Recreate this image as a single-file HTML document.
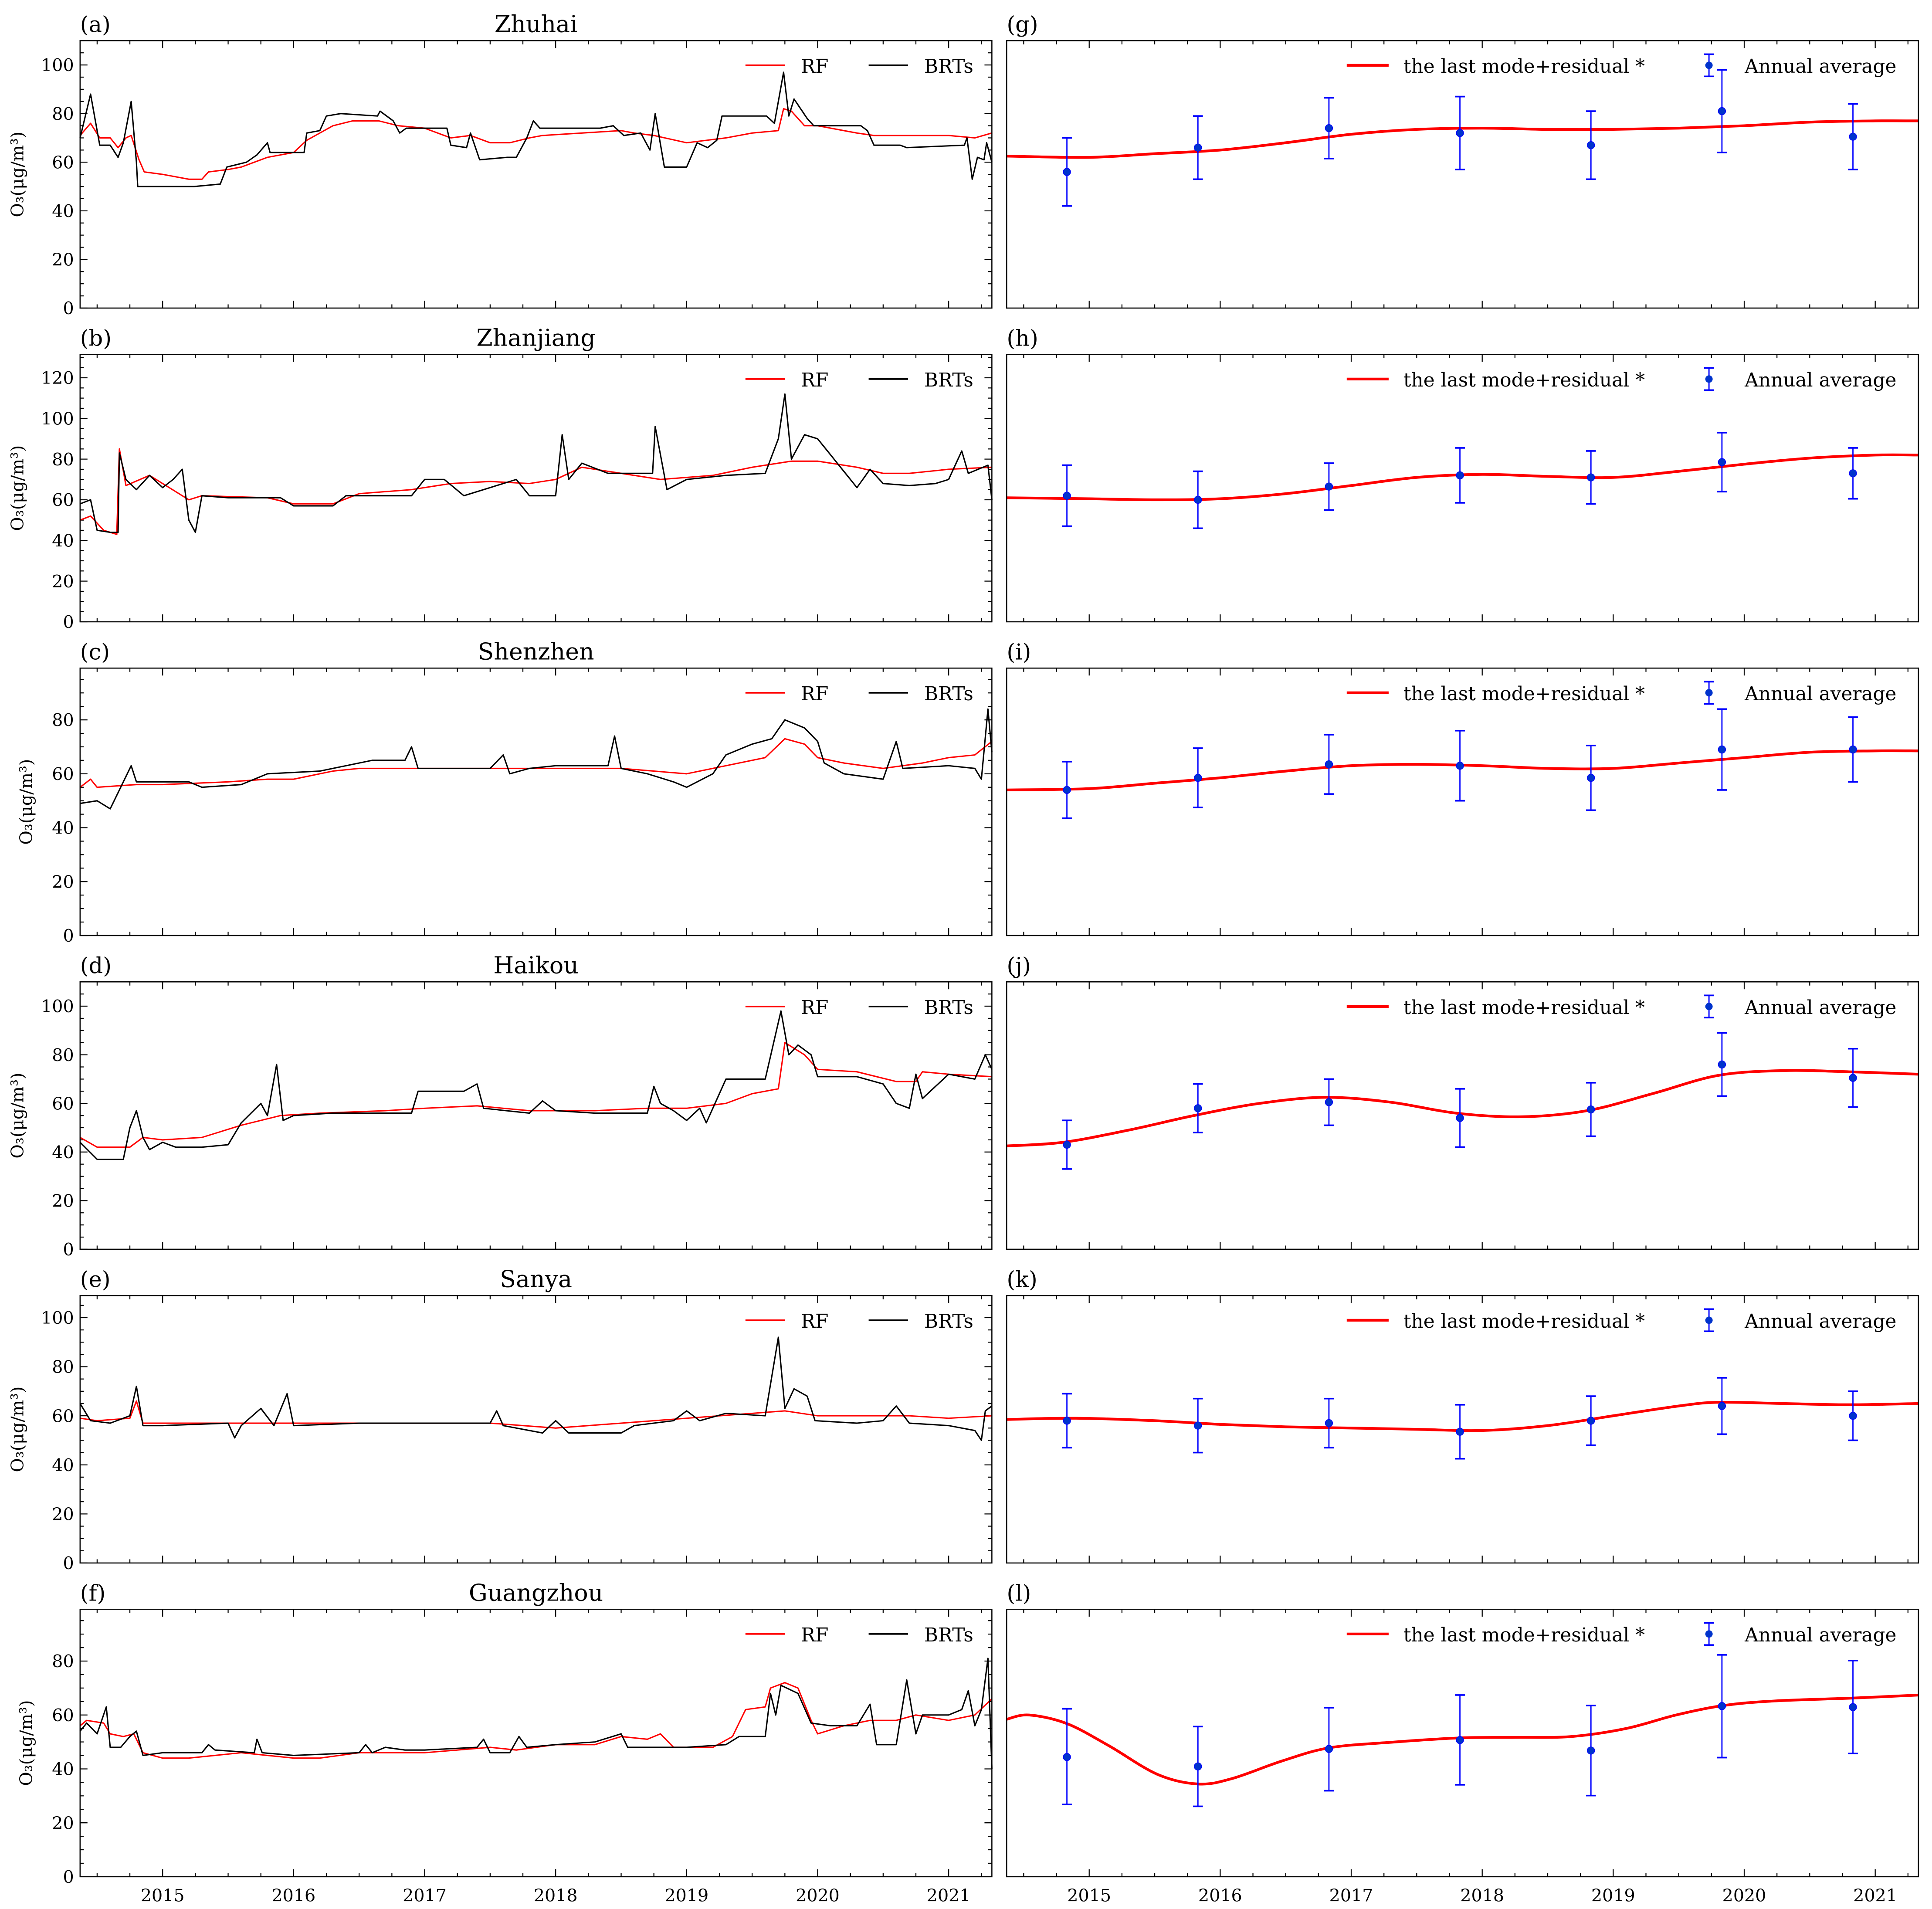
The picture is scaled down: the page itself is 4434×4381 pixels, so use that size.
<!DOCTYPE html>
<html><head><meta charset="utf-8"><title>O3 trends</title>
<style>
html,body{margin:0;padding:0;background:#fff;}
svg{display:block;}
text{font-family:"DejaVu Serif","Liberation Serif",serif;fill:#000;}
</style></head>
<body>
<svg id="fig" xmlns="http://www.w3.org/2000/svg" width="4434" height="4381" viewBox="0 0 1568 1549.2" preserveAspectRatio="none">
<rect x="0" y="0" width="1568" height="1549.2" fill="#fff"/>
</svg>
<script>
// ---------- data ----------
const cities = ["Zhuhai","Zhanjiang","Shenzhen","Haikou","Sanya","Guangzhou"];
const leftLetters = ["(a)","(b)","(c)","(d)","(e)","(f)"];
const rightLetters = ["(g)","(h)","(i)","(j)","(k)","(l)"];
const yMaxes = [110,131.5,99.2,110,109,99.2];
const yTicks = [[0,20,40,60,80,100],[0,20,40,60,80,100,120],[0,20,40,60,80],[0,20,40,60,80,100],[0,20,40,60,80,100],[0,20,40,60,80]];
const xYears = [2015,2016,2017,2018,2019,2020,2021];
const annualYears = [2014.83,2015.83,2016.83,2017.83,2018.83,2019.83,2020.83];

// Zhuhai
const zhBrtT=[2014.37,2014.45,2014.52,2014.6,2014.66,2014.7,2014.76,2014.8,2014.81,2015.24,2015.44,2015.49,2015.64,2015.72,2015.8,2015.82,2016.08,2016.1,2016.2,2016.25,2016.36,2016.64,2016.66,2016.76,2016.81,2016.86,2017.17,2017.2,2017.32,2017.35,2017.42,2017.63,2017.7,2017.78,2017.83,2017.88,2018.34,2018.44,2018.52,2018.65,2018.72,2018.76,2018.83,2019.0,2019.08,2019.16,2019.23,2019.27,2019.61,2019.67,2019.74,2019.78,2019.82,2019.92,2019.97,2020.33,2020.38,2020.43,2020.63,2020.68,2021.12,2021.14,2021.18,2021.22,2021.27,2021.29,2021.33];
const zhBrtV=[70,88,67,67,62,68,85,60,50,50,51,58,60,63,68,64,64,72,73,79,80,79,81,77,72,74,74,67,66,72,61,62,62,70,77,74,74,75,71,72,65,80,58,58,68,66,69,79,79,76,97,79,86,78,75,75,73,67,67,66,67,70,53,62,61,68,60];
const zhRfT=[2014.37,2014.45,2014.52,2014.6,2014.66,2014.72,2014.76,2014.82,2014.86,2015.0,2015.2,2015.3,2015.35,2015.5,2015.6,2015.7,2015.8,2016.0,2016.1,2016.2,2016.3,2016.45,2016.65,2016.8,2017.0,2017.2,2017.35,2017.5,2017.65,2017.8,2017.9,2018.2,2018.5,2018.6,2018.75,2019.0,2019.3,2019.5,2019.7,2019.74,2019.8,2019.9,2020.0,2020.3,2020.43,2020.7,2021.0,2021.2,2021.33];
const zhRfV=[71,76,70,70,66,70,71,61,56,55,53,53,56,57,58,60,62,64,69,72,75,77,77,75,74,70,71,68,68,70,71,72,73,72,71,68,70,72,73,82,81,75,75,72,71,71,71,70,72];
// Zhanjiang
const zjBrtT=[2014.37,2014.45,2014.5,2014.6,2014.66,2014.67,2014.72,2014.8,2014.9,2015.0,2015.08,2015.15,2015.2,2015.25,2015.3,2015.5,2015.9,2016.0,2016.3,2016.4,2016.9,2017.0,2017.15,2017.3,2017.5,2017.7,2017.8,2018.0,2018.05,2018.1,2018.2,2018.4,2018.74,2018.76,2018.85,2019.0,2019.3,2019.6,2019.7,2019.75,2019.8,2019.9,2020.0,2020.15,2020.3,2020.4,2020.5,2020.7,2020.9,2021.0,2021.1,2021.15,2021.3,2021.33];
const zjBrtV=[58,60,45,44,44,83,70,65,72,66,70,75,50,44,62,61,61,57,57,62,62,70,70,62,66,70,62,62,92,70,78,73,73,96,65,70,72,73,90,112,80,92,90,78,66,75,68,67,68,70,84,73,77,60];
const zjRfT=[2014.37,2014.45,2014.55,2014.65,2014.67,2014.72,2014.9,2015.0,2015.2,2015.3,2015.8,2016.0,2016.3,2016.5,2016.9,2017.2,2017.5,2017.8,2018.0,2018.2,2018.4,2018.8,2019.2,2019.5,2019.8,2020.0,2020.3,2020.5,2020.7,2021.0,2021.33];
const zjRfV=[50,52,45,43,85,67,72,68,60,62,61,58,58,63,65,68,69,68,70,76,74,70,72,76,79,79,76,73,73,75,76];
// Shenzhen
const szBrtT=[2014.37,2014.5,2014.6,2014.7,2014.76,2014.8,2015.2,2015.3,2015.6,2015.8,2016.2,2016.4,2016.6,2016.85,2016.9,2016.95,2017.5,2017.6,2017.65,2017.8,2018.0,2018.4,2018.45,2018.5,2018.7,2018.9,2019.0,2019.2,2019.3,2019.5,2019.65,2019.75,2019.9,2020.0,2020.05,2020.2,2020.5,2020.6,2020.65,2021.0,2021.2,2021.25,2021.3,2021.33];
const szBrtV=[49,50,47,57,63,57,57,55,56,60,61,63,65,65,70,62,62,67,60,62,63,63,74,62,60,57,55,60,67,71,73,80,77,72,64,60,58,72,62,63,62,58,84,68];
const szRfT=[2014.37,2014.45,2014.5,2014.8,2015.0,2015.5,2015.8,2016.0,2016.3,2016.5,2017.0,2017.5,2018.0,2018.5,2019.0,2019.3,2019.6,2019.75,2019.9,2020.0,2020.2,2020.5,2020.8,2021.0,2021.2,2021.33];
const szRfV=[55,58,55,56,56,57,58,58,61,62,62,62,62,62,60,63,66,73,71,66,64,62,64,66,67,72];
// Haikou
const hkBrtT=[2014.37,2014.5,2014.7,2014.75,2014.8,2014.85,2014.9,2015.0,2015.1,2015.3,2015.5,2015.6,2015.75,2015.8,2015.87,2015.92,2016.0,2016.3,2016.9,2016.95,2017.3,2017.4,2017.45,2017.8,2017.9,2018.0,2018.3,2018.7,2018.75,2018.8,2018.9,2019.0,2019.1,2019.15,2019.3,2019.6,2019.72,2019.78,2019.85,2019.95,2020.0,2020.3,2020.5,2020.6,2020.7,2020.75,2020.8,2021.0,2021.2,2021.28,2021.33];
const hkBrtV=[44,37,37,50,57,46,41,44,42,42,43,52,60,55,76,53,55,56,56,65,65,68,58,56,61,57,56,56,67,60,57,53,58,52,70,70,98,80,84,80,71,71,68,60,58,72,62,72,70,80,74];
const hkRfT=[2014.37,2014.5,2014.75,2014.85,2015.0,2015.3,2015.6,2015.9,2016.2,2016.7,2017.0,2017.4,2017.8,2018.3,2018.7,2019.0,2019.3,2019.5,2019.7,2019.75,2019.9,2020.0,2020.3,2020.6,2020.75,2020.8,2021.0,2021.33];
const hkRfV=[46,42,42,46,45,46,51,55,56,57,58,59,57,57,58,58,60,64,66,85,80,74,73,69,69,73,72,71];
// Sanya
const syBrtT=[2014.37,2014.45,2014.6,2014.75,2014.8,2014.85,2015.0,2015.5,2015.55,2015.6,2015.75,2015.85,2015.95,2016.0,2016.5,2017.0,2017.5,2017.55,2017.6,2017.9,2018.0,2018.1,2018.5,2018.6,2018.9,2019.0,2019.1,2019.3,2019.6,2019.7,2019.75,2019.82,2019.92,2019.98,2020.3,2020.5,2020.6,2020.7,2021.0,2021.2,2021.25,2021.28,2021.33];
const syBrtV=[65,58,57,60,72,56,56,57,51,56,63,56,69,56,57,57,57,62,56,53,58,53,53,56,58,62,58,61,60,92,63,71,68,58,57,58,64,57,56,54,50,62,64];
const syRfT=[2014.37,2014.5,2014.75,2014.8,2014.85,2015.5,2016.0,2017.0,2017.5,2018.0,2018.5,2019.0,2019.5,2019.75,2020.0,2020.5,2020.7,2021.0,2021.33];
const syRfV=[59,58,59,66,57,57,57,57,57,55,57,59,61,62,60,60,60,59,60];
// Guangzhou
const gzBrtT=[2014.37,2014.42,2014.5,2014.57,2014.6,2014.68,2014.75,2014.8,2014.85,2015.0,2015.3,2015.35,2015.4,2015.7,2015.72,2015.76,2016.0,2016.5,2016.55,2016.6,2016.7,2016.85,2017.0,2017.4,2017.45,2017.5,2017.65,2017.72,2017.78,2018.0,2018.3,2018.5,2018.55,2019.0,2019.3,2019.4,2019.6,2019.64,2019.68,2019.72,2019.85,2019.95,2020.1,2020.3,2020.4,2020.45,2020.6,2020.68,2020.75,2020.8,2021.0,2021.1,2021.15,2021.2,2021.25,2021.3,2021.33];
const gzBrtV=[54,57,53,63,48,48,52,54,45,46,46,49,47,46,51,46,45,46,49,46,48,47,47,48,51,46,46,52,48,49,50,53,48,48,49,52,52,68,60,71,68,57,56,56,64,49,49,73,53,60,60,62,69,56,62,81,40];
const gzRfT=[2014.37,2014.42,2014.55,2014.6,2014.7,2014.78,2014.85,2015.0,2015.2,2015.4,2015.6,2015.8,2016.0,2016.2,2016.5,2017.0,2017.5,2017.7,2018.0,2018.3,2018.5,2018.7,2018.8,2018.9,2019.2,2019.35,2019.45,2019.6,2019.64,2019.75,2019.85,2019.95,2020.0,2020.2,2020.4,2020.6,2020.75,2021.0,2021.2,2021.33];
const gzRfV=[56,58,57,53,52,53,46,44,44,45,46,45,44,44,46,46,48,47,49,49,52,51,53,48,48,52,62,63,70,72,70,58,53,56,58,58,60,58,60,66];

const brtTimes=[zhBrtT,zjBrtT,szBrtT,hkBrtT,syBrtT,gzBrtT];
const brtValues=[zhBrtV,zjBrtV,szBrtV,hkBrtV,syBrtV,gzBrtV];
const rfTimes=[zhRfT,zjRfT,szRfT,hkRfT,syRfT,gzRfT];
const rfValues=[zhRfV,zjRfV,szRfV,hkRfV,syRfV,gzRfV];

// right panels: annual averages and error ranges
const annualMeans=[[56,66,74,72,67,81,70.5],[62,60,66.5,72,71,78.5,73],[54,58.5,63.5,63,58.5,69,69],[43,58,60.5,54,57.5,76,70.5],[58,56,57,53.5,58,64,60],[44.4,40.9,47.4,50.7,46.8,63.3,62.9]];
const annualLow=[[42,53,61.5,57,53,64,57],[47,46,55,58.5,58,64,60.5],[43.5,47.5,52.5,50,46.5,54,57],[33,48,51,42,46.5,63,58.5],[47,45,47,42.5,48,52.5,50],[26.8,26.1,31.9,34.1,30.1,44.2,45.7]];
const annualHigh=[[70,79,86.5,87,81,98,84],[77,74,78,85.5,84,93,85.5],[64.5,69.5,74.5,76,70.5,84,81],[53,68,70,66,68.5,89,82.5],[69,67,67,64.5,68,75.5,70],[62.3,55.7,62.7,67.4,63.5,82.3,80.2]];
const zhCurveT=[2014.37,2015.0,2015.5,2016.0,2016.5,2017.0,2017.5,2018.0,2018.5,2019.0,2019.5,2020.0,2020.5,2021.0,2021.33];
const zhCurveV=[62.5,62,63.5,65,68,71.5,73.5,74,73.5,73.5,74,75,76.5,77,77];
const zjCurveT=[2014.37,2015.0,2015.5,2016.0,2016.5,2017.0,2017.5,2018.0,2018.5,2019.0,2019.5,2020.0,2020.5,2021.0,2021.33];
const zjCurveV=[61,60.5,60,60.5,63,67,71,72.5,71.5,71,74,77.5,80.5,82,82];
const szCurveT=[2014.37,2015.0,2015.5,2016.0,2016.5,2017.0,2017.5,2018.0,2018.5,2019.0,2019.5,2020.0,2020.5,2021.0,2021.33];
const szCurveV=[54,54.5,56.5,58.5,61,63,63.5,63,62,62,64,66,68,68.5,68.5];
const hkCurveT=[2014.37,2014.8,2015.3,2015.8,2016.3,2016.8,2017.3,2017.8,2018.3,2018.8,2019.3,2019.8,2020.3,2020.8,2021.33];
const hkCurveV=[42.5,44,49,55,60,62.5,60.5,56,54.5,57,64,71.5,73.5,73,72];
const syCurveT=[2014.37,2014.9,2015.5,2016.0,2016.5,2017.0,2017.5,2018.0,2018.5,2019.0,2019.5,2019.8,2020.3,2020.8,2021.33];
const syCurveV=[58.5,59,58,56.5,55.5,55,54.5,54,56,60,64,65.5,65,64.5,65];
const gzCurveT=[2014.37,2014.54,2014.83,2015.15,2015.52,2015.83,2016.09,2016.47,2016.83,2017.31,2017.83,2018.25,2018.68,2019.1,2019.48,2019.84,2020.23,2020.84,2021.33];
const gzCurveV=[58.4,60,56.8,48.6,38,34.4,36.4,42.9,47.8,49.9,51.5,51.7,52,55,60,63.5,65.2,66.3,67.4];
const curveTimes=[zhCurveT,zjCurveT,szCurveT,hkCurveT,syCurveT,gzCurveT];
const curveValues=[zhCurveV,zjCurveV,szCurveV,hkCurveV,syCurveV,gzCurveV];

// ---------- drawing ----------
const NS="http://www.w3.org/2000/svg";
const svg=document.getElementById('fig');
const T0=2014.37,T1=2021.33;
const LX0=65,LX1=805,RX0=817,RX1=1557;
const PH=217,P0=33,PSTEP=254.6;
function mk(tag,attrs,parent){const e=document.createElementNS(NS,tag);for(const k in attrs)e.setAttribute(k,attrs[k]);(parent||svg).appendChild(e);return e;}
function xs(t,x0,x1){return x0+(t-T0)/(T1-T0)*(x1-x0);}
function ys(v,top,ymax){return top+PH-v/ymax*PH;}
function linePath(ts,vs,x0,x1,top,ymax){return ts.map((t,i)=>(i?'L':'M')+xs(t,x0,x1).toFixed(2)+','+ys(vs[i],top,ymax).toFixed(2)).join('');}
function smoothPath(ts,vs,x0,x1,top,ymax){
  const p=ts.map((t,i)=>[xs(t,x0,x1),ys(vs[i],top,ymax)]);
  let d='M'+p[0][0]+','+p[0][1];
  for(let i=0;i<p.length-1;i++){
    const a=p[i-1]||p[i],b=p[i],c=p[i+1],e=p[i+2]||c;
    d+=' C'+(b[0]+(c[0]-a[0])/6)+','+(b[1]+(c[1]-a[1])/6)+' '+(c[0]-(e[0]-b[0])/6)+','+(c[1]-(e[1]-b[1])/6)+' '+c[0]+','+c[1];
  }
  return d;
}

for(let r=0;r<6;r++){
  const top=P0+r*PSTEP, bot=top+PH, ymax=yMaxes[r];
  // ----- left panel -----
  const gL=mk('g',{});
  
  
  const lab=mk('text',{x:65,y:top-7,'font-size':18},gL);lab.textContent=leftLetters[r];
  
  
  const ttl=mk('text',{x:435,y:top-7,'font-size':19,'text-anchor':'middle'},gL);ttl.textContent=cities[r];
  
  
  // ticks
  for(let v=0;v<=ymax;v+=5){
    const y=ys(v,top,ymax),maj=(v%20===0);const L=maj?6:3;
    mk('line',{x1:LX0,x2:LX0+L,y1:y,y2:y,stroke:'#000','stroke-width':0.8},gL);
    mk('line',{x1:LX1,x2:LX1-L,y1:y,y2:y,stroke:'#000','stroke-width':0.8},gL);
  }
  yTicks[r].forEach(v=>{const t=mk('text',{x:LX0-5,y:ys(v,top,ymax)+5,'font-size':14,'text-anchor':'end'},gL);t.textContent=v;
    
    });
  const yl=mk('text',{x:0,y:0,'font-size':14,'text-anchor':'middle',transform:'translate('+(r===2||r===5?26:19)+','+(top+PH/2)+') rotate(-90)'},gL);
  yl.textContent='O₃(μg/m³)';
  
  
  // series
  const rf=mk('path',{d:linePath(rfTimes[r],rfValues[r],LX0,LX1,top,ymax),fill:'none',stroke:'#ff0000','stroke-width':1.1,'stroke-linejoin':'round'},gL);
  
  
  const br=mk('path',{d:linePath(brtTimes[r],brtValues[r],LX0,LX1,top,ymax),fill:'none',stroke:'#000','stroke-width':1.1,'stroke-linejoin':'round'},gL);
  
  
  // legend
  const lg=mk('g',{},gL);
  
  
  mk('line',{x1:605,x2:637,y1:top+20,y2:top+20,stroke:'#ff0000','stroke-width':1.3},lg);
  const t1=mk('text',{x:650,y:top+26,'font-size':15.5},lg);t1.textContent='RF';
  mk('line',{x1:705,x2:737,y1:top+20,y2:top+20,stroke:'#000','stroke-width':1.3},lg);
  const t2=mk('text',{x:750,y:top+26,'font-size':15.5},lg);t2.textContent='BRTs';

  // ----- right panel -----
  const gR=mk('g',{});
  
  
  const lab2=mk('text',{x:817,y:top-7,'font-size':18},gR);lab2.textContent=rightLetters[r];
  
  
  const cv=mk('path',{d:smoothPath(curveTimes[r],curveValues[r],RX0,RX1,top,ymax),fill:'none',stroke:'#ff0000','stroke-width':2.2},gR);
  
  
  annualYears.forEach((yr,i)=>{
    const x=xs(yr,RX0,RX1),yl2=ys(annualLow[r][i],top,ymax),yh=ys(annualHigh[r][i],top,ymax),ym=ys(annualMeans[r][i],top,ymax);
    const g=mk('g',{},gR);
    
    
    mk('line',{x1:x,x2:x,y1:yl2,y2:yh,stroke:'#0000ff','stroke-width':1},g);
    mk('line',{x1:x-4,x2:x+4,y1:yl2,y2:yl2,stroke:'#0000ff','stroke-width':1.3},g);
    mk('line',{x1:x-4,x2:x+4,y1:yh,y2:yh,stroke:'#0000ff','stroke-width':1.3},g);
    mk('circle',{cx:x,cy:ym,r:3,fill:'#0033cc',stroke:'#0000ff','stroke-width':0.5},g);
  });
  const lg2=mk('g',{},gR);
  
  
  mk('line',{x1:1093,x2:1127,y1:top+20,y2:top+20,stroke:'#ff0000','stroke-width':2.2},lg2);
  const t3=mk('text',{x:1139,y:top+26,'font-size':15.5},lg2);t3.textContent='the last mode+residual *';
  mk('line',{x1:1387,x2:1387,y1:top+11,y2:top+29,stroke:'#0000ff','stroke-width':1},lg2);
  mk('line',{x1:1383,x2:1391,y1:top+11,y2:top+11,stroke:'#0000ff','stroke-width':1.3},lg2);
  mk('line',{x1:1383,x2:1391,y1:top+29,y2:top+29,stroke:'#0000ff','stroke-width':1.3},lg2);
  mk('circle',{cx:1387,cy:top+20,r:3,fill:'#0033cc'},lg2);
  const t4=mk('text',{x:1416,y:top+26,'font-size':15.5},lg2);t4.textContent='Annual average';

  // x ticks both panels
  [[LX0,LX1,gL],[RX0,RX1,gR]].forEach(([x0,x1,g])=>{
    for(let q=2014.5;q<=2021.33;q+=0.25){
      const x=xs(q,x0,x1);if(x<x0)continue;const maj=Math.abs(q-Math.round(q))<0.01;const L=maj?6:3;
      mk('line',{x1:x,x2:x,y1:bot,y2:bot-L,stroke:'#000','stroke-width':0.8},g);
      mk('line',{x1:x,x2:x,y1:top,y2:top+L,stroke:'#000','stroke-width':0.8},g);
    }
    if(r===5){xYears.forEach(yr=>{const t=mk('text',{x:xs(yr,x0,x1),y:bot+20,'font-size':14,'text-anchor':'middle'},g);t.textContent=yr;
      
      });}
    mk('rect',{x:x0,y:top,width:x1-x0,height:PH,fill:'none',stroke:'#000','stroke-width':0.9},g);
  });
}
</script>
</body></html>
